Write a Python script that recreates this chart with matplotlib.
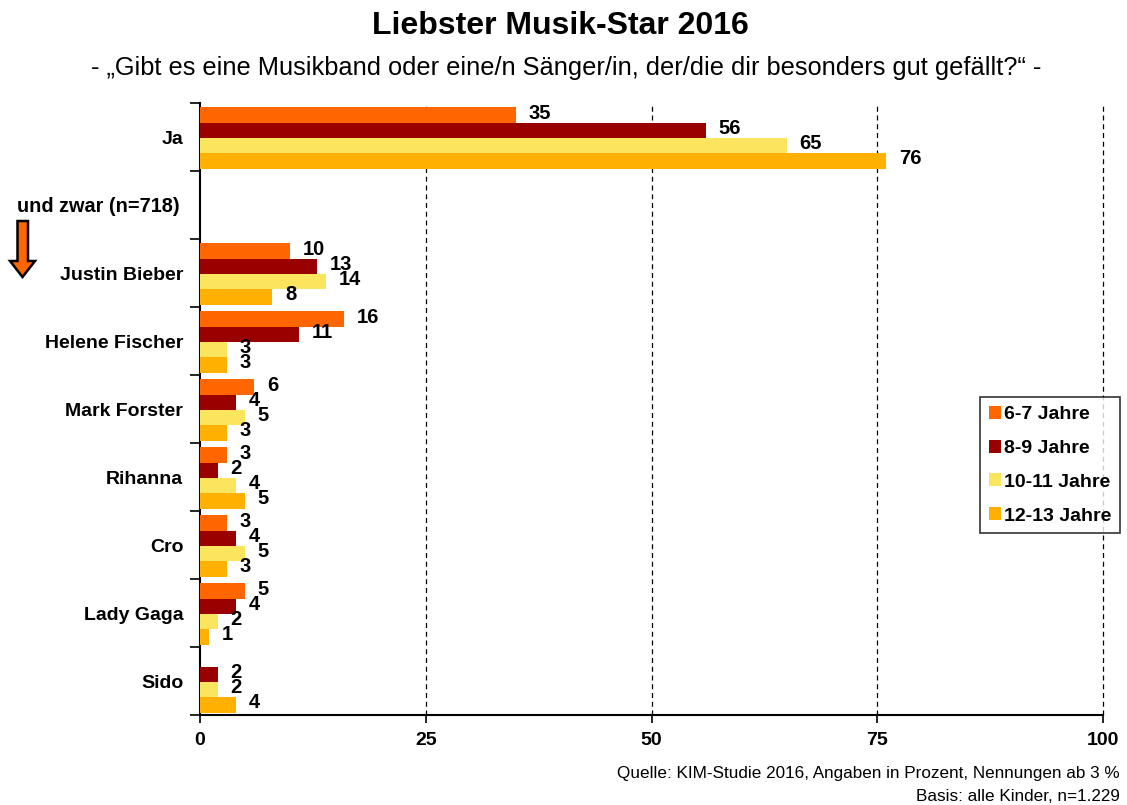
import numpy as np
import matplotlib.pyplot as plt
from matplotlib.patches import Polygon

plt.rcParams['font.family'] = ['Liberation Sans', 'DejaVu Sans']

categories = ["Ja", "", "Justin Bieber", "Helene Fischer", "Mark Forster",
              "Rihanna", "Cro", "Lady Gaga", "Sido"]
series_names = ["6-7 Jahre", "8-9 Jahre", "10-11 Jahre", "12-13 Jahre"]
age_6_7 = [35, np.nan, 10, 16, 6, 3, 3, 5, np.nan]
age_8_9 = [56, np.nan, 13, 11, 4, 2, 4, 4, 2]
age_10_11 = [65, np.nan, 14, 3, 5, 4, 5, 2, 2]
age_12_13 = [76, np.nan, 8, 3, 3, 5, 3, 1, 4]
x_ticks = [0, 25, 50, 75, 100]

colors = ["#FF6600", "#990000", "#FBE55E", "#FFB000"]
W, H = 1127, 805

fig = plt.figure(figsize=(W / 100, H / 100), dpi=100)
ax = fig.add_axes([200 / W, 1 - 715 / H, 903 / W, 612 / H])

y = np.arange(len(categories))
h = 0.225
all_series = [age_6_7, age_8_9, age_10_11, age_12_13]
for k, (vals, name, col) in enumerate(zip(all_series, series_names, colors)):
    pos = y + (k - 1.5) * h + 0.015
    ax.barh(pos, vals, height=h, color=col, label=name, zorder=3)
    for p, v in zip(pos, vals):
        if not np.isnan(v):
            ax.text(v + 1.4, p - 0.03, f"{v:g}", va="center", ha="left",
                    fontsize=14.5, fontweight="bold", zorder=4)

ax.set_xlim(0, 100)
ax.set_ylim(len(categories) - 0.5, -0.5)
ax.set_xticks(x_ticks)
ax.set_xticklabels([str(t) for t in x_ticks], fontsize=14, fontweight="bold")
ax.set_yticks(y)
ax.set_yticklabels(categories, fontsize=14, fontweight="bold")
ax.tick_params(axis="y", length=0, pad=12)
ax.set_yticks(np.arange(-0.5, len(categories), 1), minor=True)
ax.tick_params(axis="y", which="minor", length=7, width=1.2, direction="out")
ax.tick_params(axis="x", length=6, width=1.2, pad=6)

for xv in x_ticks[1:]:
    ax.axvline(xv, color="black", linestyle=(0, (4, 3)), linewidth=0.9,
               zorder=1, clip_on=False)

for side in ["top", "right"]:
    ax.spines[side].set_visible(False)
ax.spines["left"].set_linewidth(1.5)
ax.spines["bottom"].set_linewidth(1.5)

fig.text(560 / W, 1 - 26 / H, "Liebster Musik-Star 2016", ha="center", va="center",
         fontsize=23, fontweight="bold")
fig.text(566 / W, 1 - 68 / H,
         "- \u201eGibt es eine Musikband oder eine/n S\u00e4nger/in, der/die dir besonders gut gef\u00e4llt?\u201c -",
         ha="center", va="center", fontsize=18.3)

fig.text(180 / W, 1 - 207 / H, "und zwar (n=718)", ha="right", va="center",
         fontsize=14.3, fontweight="bold")

arrow_px = [(17.5, 221), (28, 221), (28, 261), (35, 261), (22.5, 277), (10, 261), (17.5, 261)]
arrow = Polygon([(px / W, 1 - py / H) for px, py in arrow_px], closed=True,
                facecolor="#FF6600", edgecolor="black", linewidth=1.8,
                transform=fig.transFigure)
fig.patches.append(arrow)

leg = ax.legend(loc="upper left", bbox_to_anchor=(980 / W, 1 - 397 / H),
                bbox_transform=fig.transFigure, frameon=True, fancybox=False,
                edgecolor="black", handlelength=0.65, handleheight=0.65,
                handletextpad=0.15, labelspacing=0.85, borderpad=0.45,
                borderaxespad=0, prop={"size": 14, "weight": "bold"})
leg.get_frame().set_linewidth(1.2)

fig.text(1120 / W, 1 - 773 / H,
         "Quelle: KIM-Studie 2016, Angaben in Prozent, Nennungen ab 3 %",
         ha="right", va="center", fontsize=12.3)
fig.text(1120 / W, 1 - 796 / H, "Basis: alle Kinder, n=1.229",
         ha="right", va="center", fontsize=12.3)

fig.savefig("out.png", dpi=100)
